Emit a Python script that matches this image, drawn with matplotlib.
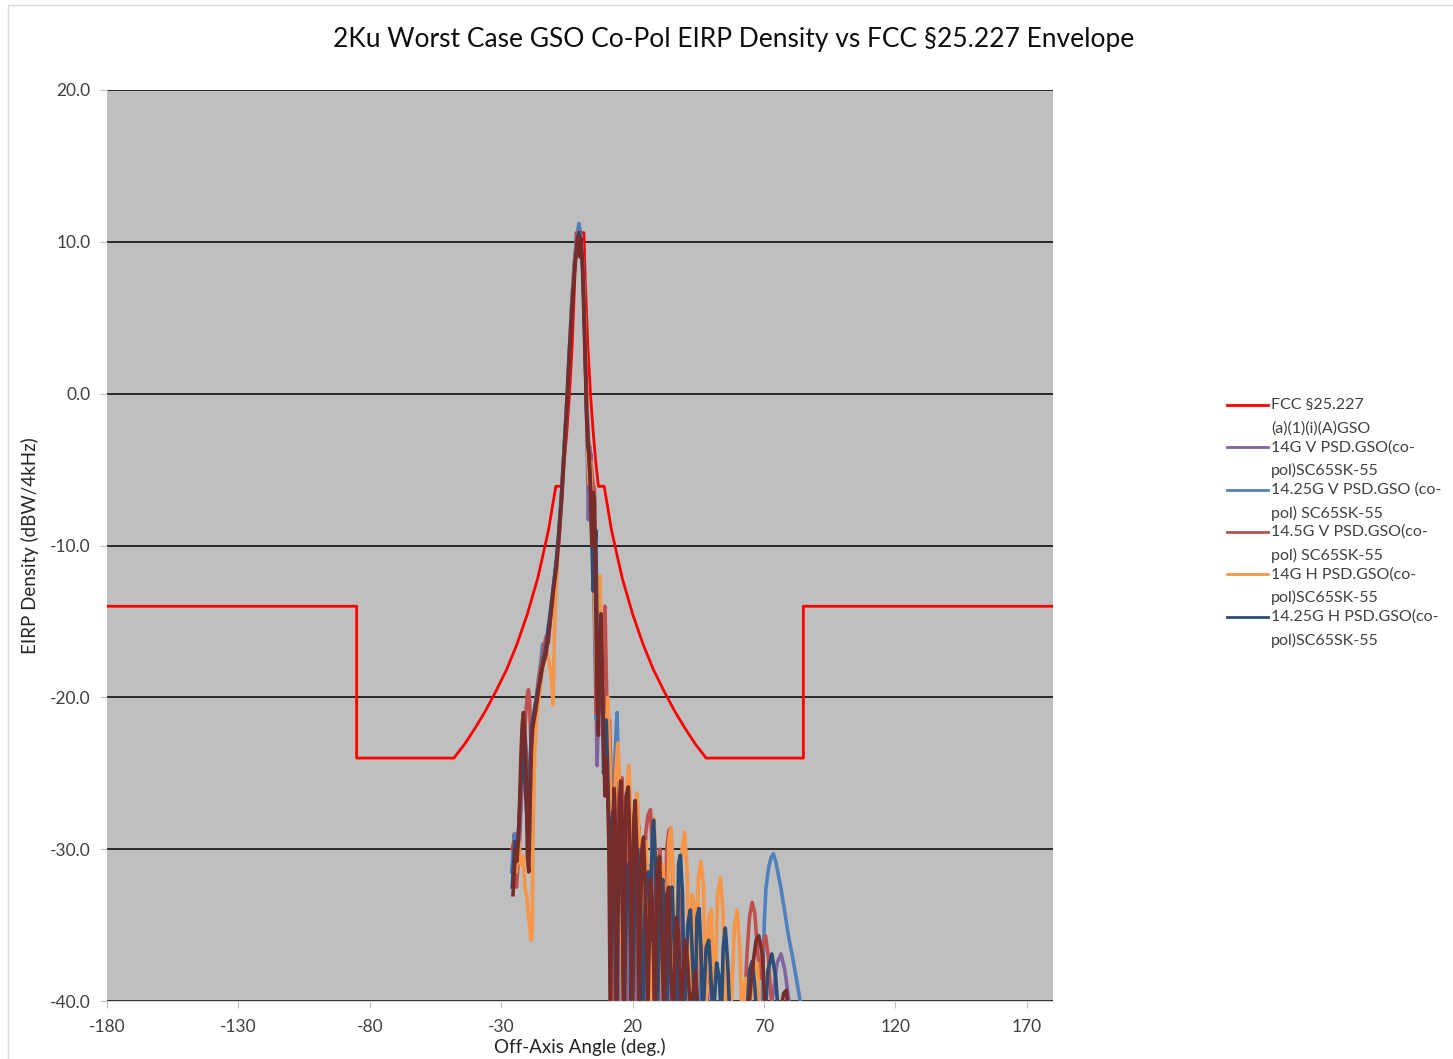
import matplotlib
matplotlib.use("Agg")
from matplotlib import pyplot as plt
from matplotlib.lines import Line2D
from matplotlib.patches import Rectangle

plt.rcParams['font.family'] = ['Lato', 'DejaVu Sans']

title = "2Ku Worst Case GSO Co-Pol EIRP Density vs FCC §25.227 Envelope"
x_label = "Off-Axis Angle (deg.)"
y_label = "EIRP Density (dBW/4kHz)"

x_ticks = [-180, -130, -80, -30, 20, 70, 120, 170]
y_ticks = [-40, -30, -20, -10, 0, 10, 20]
y_tick_labels = ["-40.0", "-30.0", "-20.0", "-10.0", "0.0", "10.0", "20.0"]

# FCC envelope (angle, dBW/4kHz)
fcc_env = [(-180, -14.0), (-85, -14.0), (-85, -24.0), (-48, -24.0), (-44, -23.1),
           (-40, -22.05), (-36, -20.9), (-32, -19.6), (-28, -18.2), (-24, -16.5),
           (-20, -14.5), (-16, -12.1), (-12, -9.0), (-9.2, -6.1), (-7, -6.1),
           (-6, -4.5), (-5, -2.5), (-4, -0.05), (-3, 3.1), (-2, 7.5), (-1.5, 10.6),
           (1.5, 10.6), (2, 7.5), (3, 3.1), (4, -0.05), (5, -2.5), (6, -4.5),
           (7, -6.1), (9.2, -6.1), (12, -9.0), (16, -12.1), (20, -14.5), (24, -16.5),
           (28, -18.2), (32, -19.6), (36, -20.9), (40, -22.05), (44, -23.1),
           (48, -24.0), (85, -24.0), (85, -14.0), (180, -14.0)]

v14 = [(-25.6,-30.5),(-25.0,-29.0),(-24.4,-30.5),(-23.8,-31.0),(-23.0,-29.5),(-22.3,-26.5),
       (-21.6,-24.0),(-21.0,-22.5),(-20.4,-23.5),(-19.8,-25.0),(-19.2,-26.5),(-18.6,-24.0),
       (-18.0,-22.0),(-17.0,-20.5),(-16.0,-19.5),(-15.0,-18.5),(-14.0,-17.5),(-13.0,-16.5),
       (-12.0,-15.5),(-11.0,-14.2),(-10.0,-12.8),(-9.0,-11.2),(-8.0,-9.5),(-7.0,-7.0),
       (-6.0,-4.0),(-5.0,-1.0),(-4.0,2.5),(-3.0,6.0),(-2.0,8.8),(-1.0,10.4),(-0.4,10.9),
       (0.2,10.2),(0.8,9.0),(1.5,6.5),(2.0,3.0),(2.6,-2.0),(3.2,-8.3),(3.6,-5.0),(4.2,-4.0),
       (4.8,-7.5),(5.4,-12.0),(6.0,-18.0),(6.5,-24.5),(7.0,-21.0),(7.6,-15.0),(8.2,-17.0),
       (8.8,-22.0),(9.4,-24.5),(10.0,-21.5),(10.6,-25.5),(11.2,-29.0),(11.8,-41.0),
       (12.4,-30.0),(13.0,-28.0),(13.8,-33.0),(14.6,-41.0),(15.4,-30.5),(16.2,-29.0),
       (17.0,-35.0),(17.8,-41.0),(18.6,-31.0),(19.4,-30.0),(20.2,-35.5),(21.0,-41.0),
       (21.8,-32.0),(22.6,-31.0),(23.4,-36.0),(24.2,-41.0),(25.0,-33.0),(25.8,-32.5),
       (26.6,-37.0),(27.4,-41.0),(28.2,-34.0),(29.0,-32.5),(30.0,-36.5),(31.0,-41.0),
       (32.0,-34.5),(33.0,-33.5),(34.0,-38.0),(35.0,-41.0),(36.0,-35.0),(37.0,-36.5),
       (38.0,-41.0),(39.0,-37.0),(40.0,-41.0),(42.0,-38.0),(43.0,-41.0),(45.0,-38.5),
       (46.0,-41.0),(48.0,-39.0),(49.0,-41.0),(72.0,-41.0),(73.5,-39.5),(75.0,-37.5),
       (76.5,-36.9),(78.0,-38.0),(79.5,-40.0),(81.0,-41.0)]

v1425 = [(-26.0,-31.5),(-25.4,-30.0),(-24.8,-29.0),(-24.2,-30.5),(-23.6,-29.5),(-23.0,-27.5),
         (-22.4,-25.5),(-21.8,-24.0),(-21.2,-23.0),(-20.6,-24.5),(-20.0,-26.0),(-19.4,-25.5),
         (-19.0,-28.5),(-18.6,-30.0),(-18.2,-26.0),(-17.6,-22.5),(-17.0,-21.0),(-16.0,-19.0),
         (-15.0,-17.8),(-14.2,-16.5),(-13.4,-17.5),(-12.6,-16.0),(-11.8,-15.0),(-11.0,-14.0),
         (-10.0,-12.5),(-9.0,-11.0),(-8.0,-9.0),(-7.0,-6.5),(-6.0,-3.5),(-5.0,-0.5),(-4.0,3.0),
         (-3.0,6.5),(-2.0,9.0),(-1.0,10.6),(-0.4,11.2),(0.2,10.6),(0.8,9.2),(1.5,6.2),
         (2.0,2.5),(2.6,-1.5),(3.0,-4.0),(3.4,-5.5),(3.8,-3.5),(4.4,-6.0),(5.0,-11.0),
         (5.6,-16.0),(6.2,-21.5),(6.8,-19.0),(7.4,-14.0),(8.0,-16.5),(8.6,-22.0),(9.2,-19.5),
         (9.8,-22.0),(10.4,-26.5),(11.0,-24.0),(11.6,-27.5),(12.2,-31.0),(12.8,-26.5),
         (13.4,-23.5),(14.1,-21.0),(14.6,-24.5),(15.2,-30.0),(15.8,-41.0),(16.6,-29.5),
         (17.4,-28.5),(18.2,-33.0),(19.0,-41.0),(19.8,-30.5),(20.6,-29.0),(21.4,-33.5),
         (22.2,-41.0),(23.0,-31.0),(23.8,-30.0),(24.6,-35.0),(25.4,-41.0),(26.3,-32.0),
         (27.1,-31.0),(28.0,-35.5),(28.8,-41.0),(29.7,-32.5),(30.6,-31.5),(31.5,-36.5),
         (32.4,-41.0),(33.3,-33.5),(34.2,-33.0),(35.2,-37.5),(36.0,-41.0),(37.0,-35.0),
         (38.0,-34.5),(39.0,-38.5),(40.0,-41.0),(41.5,-36.5),(42.5,-36.0),(43.5,-39.5),
         (44.5,-41.0),(46.0,-38.0),(47.0,-37.5),(48.0,-41.0),(69.2,-41.0),(69.6,-38.0),
         (70.2,-34.5),(70.8,-32.5),(71.8,-31.2),(72.8,-30.5),(73.6,-30.3),(74.6,-30.9),
         (75.6,-31.8),(76.4,-32.5),(77.8,-34.0),(79.4,-35.8),(80.8,-37.0),(82.0,-38.2),
         (83.0,-39.2),(84.0,-40.2),(84.5,-41.0)]

v145 = [(-25.8,-30.0),(-25.2,-29.5),(-24.7,-31.0),(-24.2,-32.5),(-23.6,-31.0),(-23.0,-28.5),
        (-22.4,-26.5),(-21.8,-25.0),(-21.2,-23.0),(-20.6,-21.0),(-20.0,-19.8),(-19.6,-19.5),
        (-19.2,-20.2),(-18.8,-22.5),(-18.4,-24.5),(-18.0,-22.5),(-17.4,-21.0),(-16.6,-20.0),
        (-15.8,-19.0),(-15.0,-18.0),(-14.0,-17.0),(-13.0,-16.0),(-12.0,-16.4),(-11.2,-14.5),
        (-10.2,-13.0),(-9.2,-11.5),(-8.2,-9.8),(-7.2,-7.2),(-6.2,-4.2),(-5.2,-1.2),(-4.2,2.2),
        (-3.2,5.6),(-2.2,8.4),(-1.2,10.0),(-0.5,10.7),(0.2,10.0),(0.8,9.5),(1.4,7.2),
        (2.0,3.5),(2.6,-0.5),(3.2,-3.0),(3.8,-3.8),(4.4,-5.0),(5.0,-6.0),(5.5,-6.3),
        (5.8,-12.0),(6.1,-21.0),(6.5,-18.0),(7.0,-13.5),(7.6,-16.0),(8.2,-20.5),(8.8,-18.0),
        (9.5,-14.0),(10.0,-18.5),(10.6,-23.5),(11.2,-21.5),(11.8,-25.0),(12.4,-28.5),
        (13.0,-41.0),(13.8,-27.0),(14.6,-26.0),(15.4,-28.5),(16.0,-25.3),(16.6,-30.0),
        (17.3,-41.0),(18.2,-28.0),(19.0,-27.0),(19.8,-31.5),(20.6,-41.0),(21.6,-29.5),
        (22.4,-28.5),(23.2,-33.0),(24.0,-41.0),(25.0,-29.0),(25.8,-27.8),(26.8,-27.4),
        (27.6,-30.5),(28.5,-41.0),(29.5,-31.0),(30.4,-30.0),(31.2,-34.0),(32.0,-41.0),
        (33.0,-30.0),(33.8,-28.8),(34.5,-28.6),(35.3,-31.5),(36.2,-41.0),(37.3,-33.0),
        (38.2,-32.5),(39.2,-36.5),(40.0,-41.0),(41.2,-34.5),(42.2,-34.0),(43.2,-38.0),
        (44.0,-41.0),(45.2,-36.0),(46.2,-36.5),(47.2,-41.0),(48.5,-38.0),(49.5,-38.5),
        (50.5,-41.0),(62.5,-41.0),(63.5,-37.0),(64.5,-34.5),(65.5,-33.5),(66.5,-34.2),
        (67.5,-36.5),(68.5,-38.5),(69.5,-36.5),(70.6,-35.7),(71.6,-37.0),(72.6,-39.5),
        (73.4,-41.0)]

h14 = [(-24.8,-30.5),(-24.3,-31.5),(-23.8,-30.0),(-23.2,-29.5),(-22.6,-31.0),(-22.0,-30.5),
       (-21.5,-30.5),(-21.0,-32.5),(-20.3,-33.0),(-19.5,-34.5),(-18.6,-36.0),(-18.2,-35.5),
       (-18.0,-31.0),(-17.7,-27.0),(-17.2,-23.5),(-16.6,-21.5),(-16.0,-20.5),(-15.2,-19.5),
       (-14.4,-18.5),(-13.6,-17.2),(-12.8,-16.8),(-12.0,-17.5),(-11.0,-18.5),(-10.2,-20.5),
       (-9.8,-16.0),(-9.2,-13.0),(-8.4,-10.5),(-7.4,-7.8),(-6.4,-4.8),(-5.4,-1.8),(-4.4,1.6),
       (-3.4,5.0),(-2.4,7.8),(-1.4,9.6),(-0.6,10.3),(0.0,9.6),(0.6,10.0),(1.2,8.0),(1.8,4.5),
       (2.4,0.5),(3.0,-4.4),(3.5,-6.0),(4.0,-4.5),(4.6,-7.5),(5.2,-11.5),(5.8,-15.5),
       (6.4,-19.0),(7.0,-14.5),(7.6,-12.0),(8.2,-16.0),(8.8,-21.5),(9.4,-25.0),(10.0,-22.5),
       (10.6,-20.0),(11.2,-23.0),(11.8,-27.5),(12.4,-32.0),(13.0,-28.0),(13.6,-25.0),
       (14.4,-23.0),(15.0,-25.5),(15.6,-30.0),(16.2,-41.0),(17.0,-30.0),(17.8,-25.8),
       (18.6,-24.5),(19.4,-28.0),(20.0,-41.0),(20.8,-28.0),(21.7,-26.3),(22.6,-29.5),
       (23.4,-41.0),(24.4,-30.0),(25.2,-29.5),(26.0,-34.5),(26.6,-41.0),(27.4,-29.0),
       (28.2,-28.0),(29.0,-31.0),(29.8,-41.0),(30.8,-31.5),(31.6,-31.0),(32.4,-35.0),
       (33.0,-41.0),(33.8,-29.5),(34.6,-28.6),(35.4,-31.5),(36.2,-41.0),(37.2,-33.0),
       (38.0,-32.5),(38.8,-30.0),(39.8,-28.9),(40.8,-31.5),(41.6,-41.0),(42.6,-33.0),
       (43.4,-33.5),(44.2,-41.0),(45.0,-32.0),(46.0,-30.8),(47.0,-32.5),(47.8,-41.0),
       (49.0,-34.5),(50.0,-34.0),(51.0,-41.0),(52.4,-33.0),(53.4,-31.9),(54.4,-34.0),
       (55.4,-41.0),(56.6,-38.0),(57.4,-41.0),(58.8,-35.0),(59.8,-34.0),(60.8,-36.5),
       (61.6,-41.0),(63.0,-38.5),(64.0,-41.0),(66.5,-38.0),(67.5,-37.5),(68.5,-41.0)]

h1425 = [(-25.8,-32.5),(-25.3,-31.0),(-24.8,-29.5),(-24.0,-30.0),(-23.2,-28.5),(-22.5,-25.5),
         (-22.0,-23.0),(-21.5,-23.5),(-21.0,-25.5),(-20.5,-27.0),(-20.0,-28.5),(-19.5,-30.0),
         (-19.0,-25.0),(-18.5,-22.0),(-18.0,-21.5),(-17.0,-20.5),(-16.0,-19.5),(-15.0,-18.8),
         (-14.0,-17.5),(-13.0,-16.8),(-12.0,-15.5),(-11.0,-14.0),(-10.0,-12.5),(-9.0,-11.0),
         (-8.0,-9.0),(-7.0,-6.5),(-6.0,-3.5),(-5.0,-0.5),(-4.0,3.0),(-3.0,6.0),(-2.0,8.5),
         (-1.0,10.2),(-0.3,10.6),(0.3,9.8),(1.0,8.8),(1.5,6.0),(2.0,2.5),(2.5,-1.0),(3.0,-3.0),
         (3.5,-4.5),(4.0,-6.0),(4.5,-9.5),(5.0,-13.0),(5.5,-11.0),(6.0,-9.0),(6.5,-15.5),
         (7.0,-21.0),(7.5,-18.0),(8.0,-16.5),(8.5,-20.0),(9.0,-25.0),(9.5,-22.5),(10.0,-21.5),
         (10.5,-24.5),(11.0,-28.5),(11.5,-33.0),(12.0,-29.0),(12.5,-27.5),(13.0,-31.0),
         (13.7,-41.0),(14.5,-30.0),(15.2,-29.0),(16.0,-33.0),(16.8,-41.0),(17.8,-32.5),
         (18.5,-31.0),(19.2,-35.0),(20.0,-41.0),(21.0,-31.5),(22.0,-30.0),(23.0,-34.0),
         (23.8,-41.0),(25.0,-32.0),(26.0,-31.5),(26.8,-36.0),(27.5,-29.0),(28.0,-28.1),
         (28.8,-31.0),(29.5,-41.0),(30.5,-33.0),(31.5,-32.0),(32.3,-36.5),(33.0,-41.0),
         (34.0,-33.5),(35.0,-32.5),(36.0,-37.0),(36.8,-41.0),(37.5,-31.0),(38.2,-30.4),
         (39.0,-33.0),(39.8,-41.0),(41.0,-35.0),(42.0,-34.0),(43.0,-38.0),(43.8,-41.0),
         (44.5,-34.5),(45.3,-33.9),(46.0,-36.5),(46.8,-41.0),(48.0,-36.5),(49.0,-36.0),
         (50.0,-39.0),(50.8,-41.0),(52.0,-37.5),(53.0,-38.5),(53.8,-41.0),(54.5,-36.5),
         (55.3,-35.2),(56.2,-37.5),(57.0,-41.0),(63.5,-41.0),(64.5,-38.0),(65.5,-37.4),
         (66.5,-39.0),(67.3,-41.0),(70.5,-41.0),(71.5,-38.0),(73.0,-36.9),(74.5,-38.5),
         (75.5,-41.0)]

# 6th trace shown on the chart but cut off from its legend
h145 = [(-25.5,-33.0),(-25.0,-31.5),(-24.5,-30.0),(-24.0,-30.8),(-23.5,-29.5),(-23.0,-27.0),
        (-22.5,-24.0),(-22.0,-21.8),(-21.5,-21.0),(-21.0,-22.5),(-20.5,-25.0),(-20.0,-30.5),
        (-19.5,-31.5),(-19.0,-27.0),(-18.5,-23.5),(-18.0,-22.0),(-17.0,-21.0),(-16.0,-19.8),
        (-15.0,-18.5),(-14.0,-17.8),(-13.0,-17.2),(-12.0,-16.0),(-11.0,-14.5),(-10.0,-12.8),
        (-9.0,-11.5),(-8.0,-9.5),(-7.0,-7.0),(-6.0,-4.0),(-5.0,-1.0),(-4.0,2.5),(-3.0,5.5),
        (-2.0,8.2),(-1.0,10.0),(-0.5,10.4),(0.0,9.0),(0.5,10.2),(1.0,8.0),(1.5,5.0),(2.0,2.0),
        (2.5,-1.5),(3.0,-3.5),(3.5,-4.0),(4.0,-6.5),(4.5,-10.0),(5.0,-6.5),(5.5,-7.0),
        (6.0,-14.0),(6.5,-20.0),(7.0,-22.5),(7.5,-16.0),(8.0,-14.5),(8.5,-18.0),(9.0,-23.0),
        (9.5,-26.5),(10.0,-24.0),(10.5,-26.0),(11.0,-30.0),(11.5,-41.0),(12.5,-28.5),
        (13.0,-26.0),(13.5,-29.0),(14.0,-41.0),(15.0,-27.0),(15.5,-25.5),(16.0,-28.0),
        (16.5,-41.0),(17.5,-26.5),(18.4,-25.9),(19.0,-30.0),(19.5,-41.0),(20.5,-28.0),
        (21.0,-26.8),(21.8,-31.0),(22.5,-41.0),(23.5,-30.0),(24.2,-29.2),(25.0,-33.5),
        (25.8,-41.0),(26.8,-32.0),(27.5,-33.5),(28.5,-41.0),(29.5,-31.0),(30.3,-30.5),
        (31.0,-35.0),(32.0,-41.0),(33.0,-33.0),(33.8,-32.5),(34.5,-38.0),(35.5,-41.0),
        (36.5,-34.5),(37.5,-35.5),(38.5,-41.0),(40.0,-36.0),(41.0,-37.5),(42.0,-41.0),
        (44.0,-38.0),(45.0,-41.0),(64.0,-41.0),(65.5,-38.0),(67.0,-36.0),(68.0,-35.7),
        (69.5,-37.0),(70.5,-41.0),(76.0,-41.0),(77.5,-39.5),(78.5,-39.3),(79.5,-41.0)]

series = [fcc_env, v14, v1425, v145, h14, h1425, h145]
colors = ['#FF0000', '#8064A2', '#4F81BD', '#C0504D', '#F79646', '#2C4D75', '#772C2A']
legend_labels = [("FCC §25.227", "(a)(1)(i)(A)GSO"),
                 ("14G V PSD.GSO(co-", "pol)SC65SK-55"),
                 ("14.25G V PSD.GSO (co-", "pol) SC65SK-55"),
                 ("14.5G V PSD.GSO(co-", "pol) SC65SK-55"),
                 ("14G H PSD.GSO(co-", "pol)SC65SK-55"),
                 ("14.25G H PSD.GSO(co-", "pol)SC65SK-55")]

W, H = 1453, 1059
fig = plt.figure(figsize=(W / 100, H / 100), dpi=100)
fig.patch.set_facecolor('white')
fig.add_artist(Rectangle((8 / W, -0.01), 1.2, 1 - 5 / H + 0.01, transform=fig.transFigure,
                         fill=False, edgecolor='#D9D9D9', lw=1))

ax = fig.add_axes([107 / W, 1 - 1001 / H, (1053 - 107) / W, (1001 - 90) / H])
ax.set_facecolor('#BFBFBF')

for i, (data, c) in enumerate(zip(series, colors)):
    xs = [p[0] for p in data]
    ys = [p[1] for p in data]
    ax.plot(xs, ys, color=c, lw=2.0 if i == 0 else 2.6, solid_joinstyle='round')

ax.set_xlim(-180, 180)
ax.set_ylim(-40, 20)
ax.set_xticks(x_ticks)
ax.set_xticklabels([str(t) for t in x_ticks])
ax.set_yticks(y_ticks)
ax.set_yticklabels(y_tick_labels)
ax.yaxis.grid(True, color='black', lw=1.1)
ax.set_axisbelow(True)
for s in ['top', 'right', 'left']:
    ax.spines[s].set_visible(False)
ax.spines['bottom'].set_color('#D9D9D9')
ax.tick_params(axis='both', colors='#BFBFBF', labelcolor='#404040', labelsize=12.5, length=5)
ax.tick_params(axis='x', pad=8)
ax.tick_params(axis='y', pad=7)

ax.set_xlabel(x_label, fontsize=13.5, color='#262626', va='center')
ax.xaxis.set_label_coords(0.5, -0.05)
ax.set_ylabel(y_label, fontsize=13.5, color='#262626', va='center')
ax.yaxis.set_label_coords(-0.081, 0.5)

fig.text(734 / W, 1 - 40 / H, title, fontsize=19, ha='center', va='center', color='#0D0D0D')

# legend, handles sit on the first line of each entry
for i, (lab, c) in enumerate(zip(legend_labels, colors)):
    y0 = 405 + i * 42.3
    fig.add_artist(Line2D([1227 / W, 1268 / W], [1 - y0 / H, 1 - y0 / H],
                          transform=fig.transFigure, color=c, lw=2.0))
    fig.text(1271 / W, 1 - y0 / H, lab[0], fontsize=11.5, va='center', color='#404040')
    fig.text(1271 / W, 1 - (y0 + 23.5) / H, lab[1], fontsize=11.5, va='center', color='#404040')

fig.savefig("out.png", dpi=100)
